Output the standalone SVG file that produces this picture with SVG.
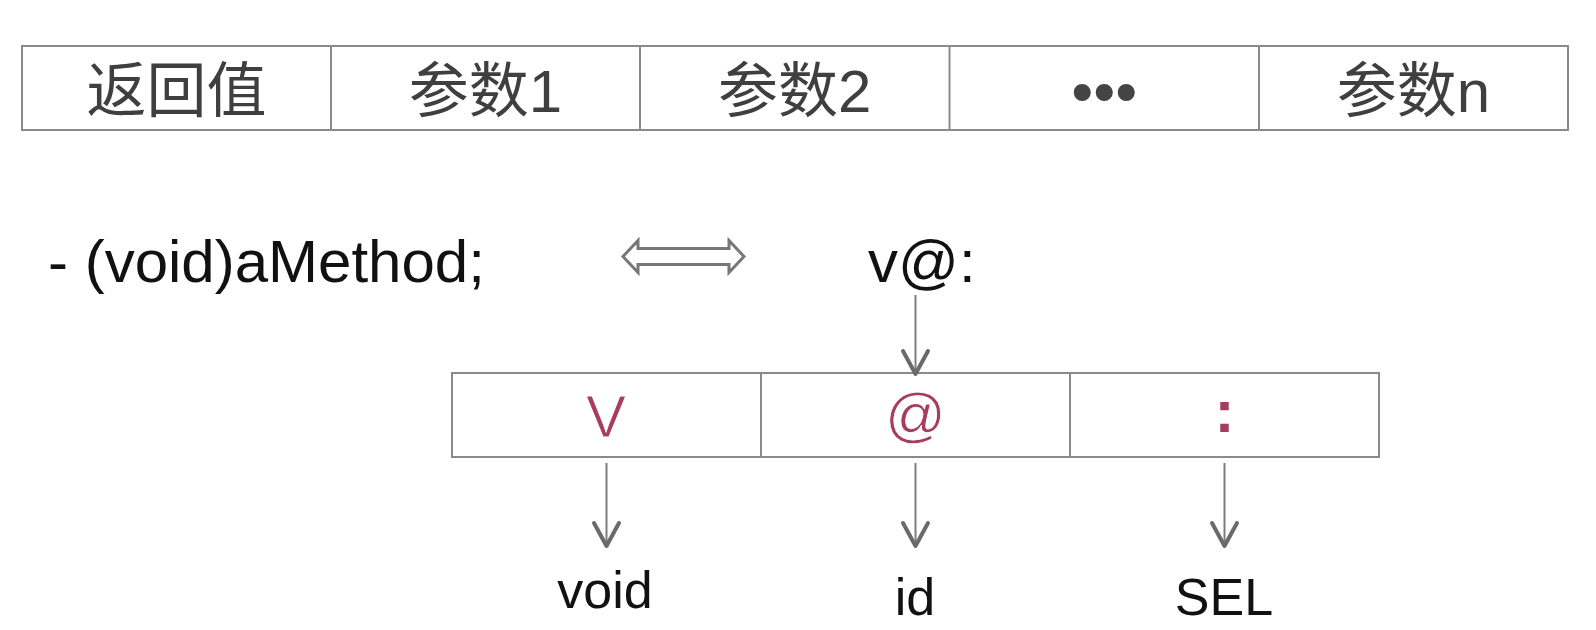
<svg xmlns="http://www.w3.org/2000/svg" width="1596" height="630" viewBox="0 0 1596 630">
<style>
.cell{fill:#fff;stroke:#8a8a8a;stroke-width:2}
.div{stroke:#8a8a8a;stroke-width:2}
.hdr{font-family:"Liberation Sans","Noto Sans CJK SC",sans-serif;font-size:60px;fill:#3f3f3f;text-anchor:middle}
.code{font-family:"Liberation Sans",Arial,sans-serif;font-size:60px;fill:#111}
.enc{font-family:"Liberation Sans",Arial,sans-serif;font-size:60px;fill:#a63d5f;text-anchor:middle}
.thin{stroke:#fff;stroke-width:0.8;paint-order:fill}
.lbl{font-family:"Liberation Sans",Arial,sans-serif;font-size:52px;fill:#111;text-anchor:middle}
.line{stroke:#7d7d7d;stroke-width:2;fill:none}
.head{stroke:#6a6a6a;stroke-width:4;fill:none;stroke-linecap:round;stroke-linejoin:round}
</style>
<g id="signature-table">
  <rect class="cell" x="22" y="46" width="1546" height="84"/>
  <line class="div" x1="331" y1="46" x2="331" y2="130"/>
  <line class="div" x1="640" y1="46" x2="640" y2="130"/>
  <line class="div" x1="949.5" y1="46" x2="949.5" y2="130"/>
  <line class="div" x1="1259" y1="46" x2="1259" y2="130"/>
  <text class="hdr" x="176.5" y="112">返回值</text>
  <text class="hdr" x="485.5" y="112">参数1</text>
  <text class="hdr" x="794.75" y="112">参数2</text>
  <text class="hdr" x="1104.25" y="113" style="fill:#444;font-size:63px">•••</text>
  <text class="hdr" x="1413.5" y="112">参数n</text>
</g>
<g id="method-decl">
  <text class="code" x="48" y="282">- (void)aMethod;</text>
</g>
<g id="type-encoding">
  <text class="code" x="868" y="282">v@:</text>
</g>
<g id="encoding-table">
  <rect class="cell" x="452" y="373" width="927" height="84"/>
  <line class="div" x1="761" y1="373" x2="761" y2="457"/>
  <line class="div" x1="1070" y1="373" x2="1070" y2="457"/>
  <text class="enc thin" x="606" y="437">V</text>
  <text class="enc thin" x="915.5" y="435">@</text>
  <text class="enc" x="1224.5" y="432" font-weight="bold">:</text>
</g>
<g id="label-void"><text class="lbl" x="605" y="608">void</text></g>
<g id="label-id"><text class="lbl" x="915" y="615">id</text></g>
<g id="label-sel"><text class="lbl" x="1224" y="615">SEL</text></g>
<g id="connectors">
  <polygon points="623,256.5 638,240.5 638,248.5 729,248.5 729,240.5 744,256.5 729,272.5 729,264.5 638,264.5 638,272.5" fill="#fff" stroke="#777" stroke-width="3" stroke-linejoin="miter"/>
  <line class="line" x1="915.5" y1="295" x2="915.5" y2="373"/>
  <polyline class="head" points="903,351 915.5,374 928,351"/>
  <line class="line" x1="606.5" y1="463" x2="606.5" y2="545"/>
  <polyline class="head" points="594,523 606.5,546 619,523"/>
  <line class="line" x1="915.5" y1="463" x2="915.5" y2="545"/>
  <polyline class="head" points="903,523 915.5,546 928,523"/>
  <line class="line" x1="1224.5" y1="463" x2="1224.5" y2="545"/>
  <polyline class="head" points="1212,523 1224.5,546 1237,523"/>
</g>
</svg>
